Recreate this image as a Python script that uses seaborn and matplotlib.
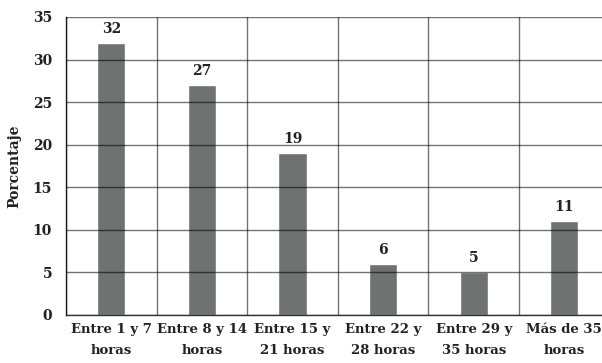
import matplotlib
matplotlib.use("Agg")
import matplotlib.pyplot as plt
import seaborn as sns
import pandas as pd
from matplotlib.ticker import MultipleLocator, FixedLocator

categorias = ["Entre 1 y 7\nhoras", "Entre 8 y 14\nhoras", "Entre 15 y\n21 horas",
              "Entre 22 y\n28 horas", "Entre 29 y\n35 horas", "Más de 35\nhoras"]
porcentajes = [32, 27, 19, 6, 5, 11]

df = pd.DataFrame({"categoria": categorias, "porcentaje": porcentajes})

sns.set_style("white")
plt.rcParams["font.family"] = ["DejaVu Serif"]

fig = plt.figure(figsize=(6.02, 3.63), dpi=100)
ax = fig.add_axes([66 / 602, 48 / 363, 543.6 / 602, 298 / 363])

sns.barplot(data=df, x="categoria", y="porcentaje", color="#6e7271",
            width=0.31, saturation=1, ax=ax, zorder=2)

ax.set_xlim(-0.5, 5.5)
ax.set_ylim(0, 35)
ax.yaxis.set_major_locator(MultipleLocator(5))
ax.xaxis.set_minor_locator(FixedLocator([i + 0.5 for i in range(-1, 6)]))

ax.grid(True, which="major", axis="y", color="black", alpha=0.55, linewidth=1.0, zorder=3)
ax.grid(True, which="minor", axis="x", color="black", alpha=0.55, linewidth=1.0, zorder=3)
ax.set_axisbelow(False)

for s in ["top", "right"]:
    ax.spines[s].set_visible(False)
for s in ["left", "bottom"]:
    ax.spines[s].set_color("#333333")
    ax.spines[s].set_linewidth(1.0)

ax.tick_params(axis="both", which="both", length=0)
ax.tick_params(axis="y", pad=10, labelsize=10)
ax.tick_params(axis="x", pad=6, labelsize=9.5)
for lbl in ax.get_xticklabels():
    lbl.set_fontweight("bold")
    lbl.set_color("#222222")
    lbl.set_linespacing(1.75)
for lbl in ax.get_yticklabels():
    lbl.set_fontweight("bold")
    lbl.set_color("#222222")

ax.set_xlabel("")
ax.set_ylabel("Porcentaje", fontsize=10, fontweight="bold", color="#222222", labelpad=8)

for i, v in enumerate(porcentajes):
    ax.annotate(f"{v}", (i, v), xytext=(0, 5), textcoords="offset points",
                ha="center", va="bottom", fontsize=10, fontweight="bold", color="#222222")

fig.savefig("out.png", dpi=100)
